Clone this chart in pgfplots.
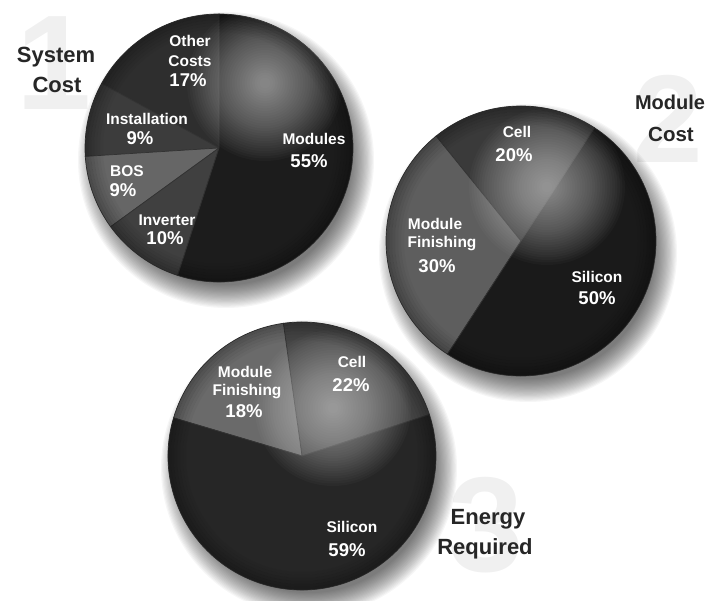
\documentclass[border=0pt]{standalone}
\usepackage{pgfplots}
\pgfplotsset{compat=1.18}
\usepackage{fontspec}
\setmainfont{Liberation Sans}

\definecolor{pOther}{HTML}{2E2E2E}
\definecolor{pInst}{HTML}{3C3C3C}
\definecolor{pBOS}{HTML}{666666}
\definecolor{pInv}{HTML}{404040}
\definecolor{pMod}{HTML}{1C1C1C}
\definecolor{qCell}{HTML}{3A3A3A}
\definecolor{qMF}{HTML}{5E5E5E}
\definecolor{qSil}{HTML}{1A1A1A}
\definecolor{rCell}{HTML}{454545}
\definecolor{rMF}{HTML}{6A6A6A}
\definecolor{rSil}{HTML}{262626}

% cx cy r a0 degPerUnit cumStart value colour
\newcommand\pieslice[8]{%
  \fill[#8, draw=black!80, line width=0.7pt] (axis cs:#1,#2) -- ++({#4+#5*#6}:#3pt)
    arc[start angle={#4+#5*#6}, end angle={#4+#5*(#6+#7)}, radius=#3pt] -- cycle;}
% shadow centre x, y, r
\newcommand\pieshadow[3]{%
  \pgfplotsinvokeforeach{0,...,19}{\fill[black, opacity=0.035] (axis cs:#1,#2) circle[radius={(#3+14-1.2*##1)*1pt}];}}
% cx cy r hx hy
\newcommand\piegloss[5]{%
  \begin{scope}
    \clip (axis cs:#1,#2) circle[radius=#3pt];
    \pgfplotsinvokeforeach{0,...,29}{\fill[white, opacity=0.024] (axis cs:#4,#5) circle[radius={(78-2.5*##1)*1pt}];}
    \draw[black, opacity=0.26, line width=3pt] (axis cs:#1,#2) circle[radius={(#3-1.5)*1pt}];
    \draw[black, opacity=0.21, line width=3pt] (axis cs:#1,#2) circle[radius={(#3-4.5)*1pt}];
    \draw[black, opacity=0.16, line width=3pt] (axis cs:#1,#2) circle[radius={(#3-7.5)*1pt}];
    \draw[black, opacity=0.11, line width=3pt] (axis cs:#1,#2) circle[radius={(#3-10.5)*1pt}];
    \draw[black, opacity=0.07, line width=3pt] (axis cs:#1,#2) circle[radius={(#3-13.5)*1pt}];
    \draw[black, opacity=0.03, line width=3pt] (axis cs:#1,#2) circle[radius={(#3-16.5)*1pt}];
  \end{scope}}
\newcommand\lab[4]{\node[anchor=base, text=white, inner sep=0pt, font=\bfseries\fontsize{#4}{#4}\selectfont] at (axis cs:#1,#2) {#3};}
\newcommand\ttl[4][22]{\node[anchor=base, text=black!85, inner sep=0pt, font=\bfseries\fontsize{#1}{#1}\selectfont] at (axis cs:#2,#3) {#4};}
\newcommand\bignum[4][135]{\node[anchor=base, text=black!6, inner sep=0pt, font=\bfseries\fontsize{#1}{#1}\selectfont] at (axis cs:#2,#3) {#4};}

\begin{document}
\begin{tikzpicture}
\begin{axis}[x=1pt, y=1pt, xmin=0, xmax=707, ymin=0, ymax=601,
  hide axis, scale only axis, clip=false]
\addplot[draw=none, forget plot] coordinates {(0,0) (707,601)};
\coordinate (BL) at (axis cs:0,0);
\coordinate (TR) at (axis cs:707,601);

% faint big numbers
\bignum{54}{491}{1}
\bignum[125]{668}{438}{2}
\bignum{486}{29}{3}

% titles
\ttl{56}{538}{System}
\ttl{57}{508}{Cost}
\ttl[20]{670}{491}{Module}
\ttl[20.5]{671}{459}{Cost}
\ttl{488}{76}{Energy}
\ttl{485}{46}{Required}

% shadows
\pieshadow{226}{441}{134}
\pieshadow{528}{348}{135}
\pieshadow{309}{133}{134}

% Pie 1: System Cost (Other 17, Installation 9, BOS 9, Inverter 10, Modules 55)
\pieslice{219}{453}{134}{90}{3.6}{0}{17}{pOther}
\pieslice{219}{453}{134}{90}{3.6}{17}{9}{pInst}
\pieslice{219}{453}{134}{90}{3.6}{26}{9}{pBOS}
\pieslice{219}{453}{134}{90}{3.6}{35}{10}{pInv}
\pieslice{219}{453}{134}{90}{3.6}{45}{55}{pMod}
\piegloss{219}{453}{134}{265}{518}

% Pie 2: Module Cost (Cell 20, Module Finishing 30, Silicon 50)
\pieslice{521}{360}{135}{57}{3.6}{0}{20}{qCell}
\pieslice{521}{360}{135}{57}{3.6}{20}{30}{qMF}
\pieslice{521}{360}{135}{57}{3.6}{50}{50}{qSil}
\piegloss{521}{360}{135}{547}{414}

% Pie 3: Energy Required (Cell 22, Module Finishing 18, Silicon 59)
\pieslice{302}{145}{134}{18}{3.63636}{0}{22}{rCell}
\pieslice{302}{145}{134}{18}{3.63636}{22}{18}{rMF}
\pieslice{302}{145}{134}{18}{3.63636}{40}{59}{rSil}
\piegloss{302}{145}{134}{333}{193}

% labels pie 1
\lab{190}{554}{Other}{15.5}
\lab{190}{534}{Costs}{15.5}
\lab{188}{514}{17\%}{18.5}
\lab{147}{476}{Installation}{15.5}
\lab{140}{456}{9\%}{18.5}
\lab{127}{424}{BOS}{15.5}
\lab{123}{404}{9\%}{18.5}
\lab{167}{375}{Inverter}{15.5}
\lab{165}{356}{10\%}{18.5}
\lab{314}{456}{Modules}{15.5}
\lab{309}{433}{55\%}{18.5}
% labels pie 2
\lab{517}{463}{Cell}{15.5}
\lab{514}{439}{20\%}{18.5}
\lab{435}{371}{Module}{15.5}
\lab{442}{353}{Finishing}{15.5}
\lab{437}{328}{30\%}{18.5}
\lab{597}{318}{Silicon}{15.5}
\lab{597}{296}{50\%}{18.5}
% labels pie 3
\lab{245}{223}{Module}{15.5}
\lab{247}{205}{Finishing}{15.5}
\lab{244}{183}{18\%}{18.5}
\lab{352}{233}{Cell}{15.5}
\lab{351}{209}{22\%}{18.5}
\lab{352}{68}{Silicon}{15.5}
\lab{347}{44}{59\%}{18.5}
\end{axis}
\pgfresetboundingbox
\useasboundingbox (BL) rectangle (TR);
\end{tikzpicture}
\end{document}
